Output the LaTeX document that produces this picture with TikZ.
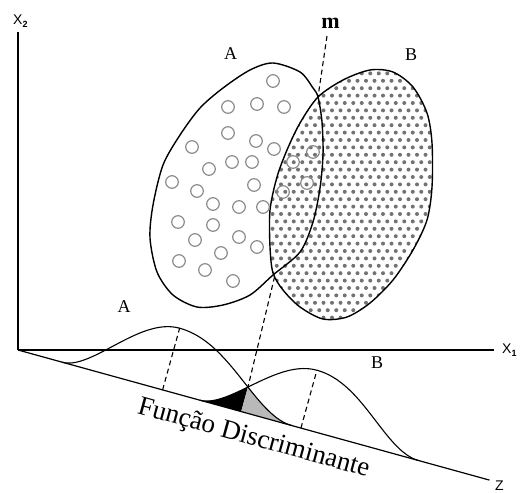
\documentclass[tikz,border=0pt]{standalone}
\usepackage{fontspec}
\setmainfont{Liberation Serif}
\newfontfamily\axisfont{Liberation Sans}

\begin{document}
\begin{tikzpicture}[x=1pt, y=-1pt,
    axisline/.style={line width=1.2pt},
    ovalline/.style={line width=1.4pt},
    bell/.style={line width=1.1pt},
    cutline/.style={line width=1.1pt, dash pattern=on 5pt off 3.5pt},
    ring/.style={draw=gray!90, line width=1.2pt},
    grain/.style={fill=black!55},
    grplabel/.style={font=\fontsize{18}{18}\selectfont, inner sep=0pt},
    axlabel/.style={font=\axisfont\fontsize{14}{14}\selectfont, inner sep=0pt, anchor=base west},
    declare function={sA(\t)=(\t-150)/(\t<150?104:134);
                      wA(\t)=1-sA(\t)*sA(\t);
                      bellA(\t)=64*wA(\t)*wA(\t);
                      sB(\t)=(\t-293.5)/(\t<293.5?105:122);
                      wB(\t)=1-sB(\t)*sB(\t);
                      bellB(\t)=60*wB(\t)*wB(\t);}]
  \fill[white] (0,0) rectangle (521,492);
  \useasboundingbox (0,0) rectangle (521,492);

  % Axes X1, X2
  \coordinate (O) at (18,350);
  \coordinate (x1end) at (494,350);
  \coordinate (x2end) at (18,32);
  \draw[axisline] (O) -- (x1end);
  \draw[axisline] (O) -- (x2end);
  \node[axlabel] (x1lbl) at (502,353) {X\raisebox{-3pt}{\fontsize{9}{9}\selectfont\bfseries 1}};
  \node[axlabel] (x2lbl) at (13,25) {X\raisebox{-3pt}{\fontsize{9}{9}\selectfont\bfseries 2}};

  % Discriminant axis and the two densities (frame turned along z)
  \begin{scope}[shift={(18,350)}, x={(0.964pt,-0.266pt)}, y={(0.266pt,0.964pt)}]
    \coordinate (zend) at (489,0);
    \coordinate (footA) at (150,0);
    \coordinate (topA) at (150,{bellA(150)});
    \coordinate (footB) at (293.5,0);
    \coordinate (topB) at (293.5,{bellB(293.5)});
    \coordinate (cut) at (231.5,{bellA(231.5)});
    \coordinate (cutfoot) at (231.5,0);
    \fill[black] plot[domain=188.5:231.5, samples=30] (\x,{bellB(\x)}) -- (cutfoot) -- cycle;
    \fill[gray!55] (cutfoot) -- plot[domain=231.5:284, samples=30] (\x,{bellA(\x)}) -- cycle;
    \draw[bell] plot[domain=46:284, samples=90] (\x,{bellA(\x)});
    \draw[bell] plot[domain=188.5:415.5, samples=90] (\x,{bellB(\x)});
    \draw[cutline] (footA) -- (topA);
    \draw[cutline] (footB) -- (topB);
  \end{scope}
  \draw[axisline] (O) -- (zend);
  \node[axlabel] (zlbl) at (495,490) {Z};

  % Line m
  \coordinate (mtop) at (327,36);
  \coordinate (mcross) at (318,97);
  \draw[cutline] (mtop) -- (mcross) -- (cut);
  \node[font=\bfseries\fontsize{22}{22}\selectfont, inner sep=0pt] (mlbl) at (330.5,23.5) {m};

  % Groups
  \def\ovalA{plot[smooth cycle, tension=0.5] coordinates {(273,63) (300,72) (313,88) (318,97) (322,122) (323,155) (320,188) (313,222) (300,252) (273,275) (250,295) (223,305) (197,307) (173,295) (157,272) (150,238) (153,205) (163,165) (180,135) (200,108) (223,88) (250,70)}}
  \def\ovalB{plot[smooth cycle, tension=0.5] coordinates {(318,97) (343,80) (370,70) (393,72) (413,87) (427,113) (432,143) (432,187) (427,220) (413,250) (393,280) (370,303) (347,317) (323,319) (300,307) (283,290) (273,273) (270,247) (270,210) (277,177) (287,150) (300,123)}}
  \fill[white] \ovalB;
  \begin{scope}
    \clip \ovalB;
    \foreach \r in {0,...,36}
      \foreach \c in {0,...,21}
        \fill[grain] ({264+8.5*\c+4.25*mod(\r,2)},{66+7.4*\r}) circle (2);
  \end{scope}
  \draw[ovalline] \ovalB;
  \draw[ovalline] \ovalA;
  \foreach \p in {(273,81),(228,107),(257,104),(284,107),(228,133),(256,141),(274,149),
                  (192,147),(232,162),(252,162),(209,169),(172,182),(254,185),(197,191),
                  (213,204),(239,207),(263,207),(178,222),(213,225),(239,237),(257,247),
                  (195,240),(221,253),(179,261),(205,270),(233,281),
                  (293,162),(313,152),(283,192),(307,183)}
    \draw[ring] \p circle (6.3);

  \node[grplabel] (lblA) at (230.5,54) {A};
  \node[grplabel] (lblB) at (411,55) {B};
  \node[grplabel] (distA) at (124,307) {A};
  \node[grplabel] (distB) at (377,363) {B};
  \node[rotate=-15.4, inner sep=0pt, font=\fontsize{27}{27}\selectfont] (fname) at (253.5,439) {Função Discriminante};
\end{tikzpicture}
\end{document}
